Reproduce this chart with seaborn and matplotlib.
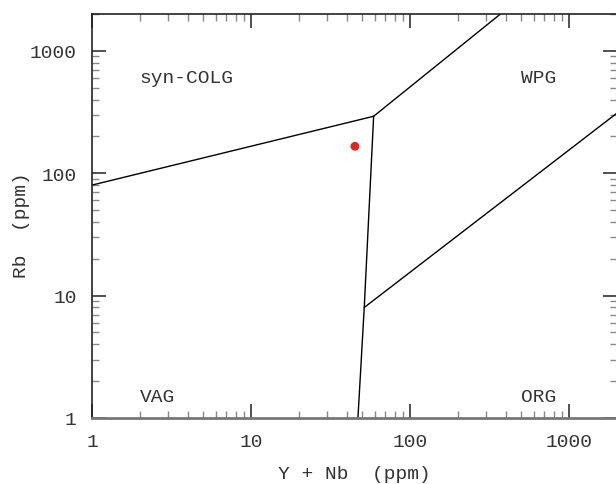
import seaborn as sns
import pandas as pd
import numpy as np
import matplotlib.pyplot as plt

# field boundaries (Y+Nb vs Rb)
colg_vag_x = [1, 59]
colg_vag_y = [80, 292]
colg_wpg_x = [59, 370]
colg_wpg_y = [292, 2000]
vag_wpg_x = [59, 51.5, 47]
vag_wpg_y = [292, 8, 1]
org_wpg_x = [51.5, 2000]
org_wpg_y = [8, 310]

# the sample
sample_x = [45]
sample_y = [166]

# field names
field_names = ["syn-COLG", "WPG", "VAG", "ORG"]
field_x = [2, 500, 2, 500]
field_y = [600, 600, 1.5, 1.5]

tick_vals = [1, 10, 100, 1000]
tick_labels = ["1", "10", "100", "1000"]

sns.set_theme(style='ticks')
plt.rcParams['font.family'] = ['Liberation Mono', 'DejaVu Sans Mono']

fig = plt.figure(figsize=(6.16, 4.85), dpi=100)
ax = fig.add_axes([92/616, 66/485, 525/616, 404/485])

lines = [(colg_vag_x, colg_vag_y), (colg_wpg_x, colg_wpg_y),
         (vag_wpg_x, vag_wpg_y), (org_wpg_x, org_wpg_y)]
for lx, ly in lines:
    df = pd.DataFrame({"x": lx, "y": ly})
    sns.lineplot(data=df, x="x", y="y", sort=False, color="black", lw=1.0, ax=ax)

pts = pd.DataFrame({"x": sample_x, "y": sample_y})
sns.scatterplot(data=pts, x="x", y="y", color="#e3241d", s=40, edgecolor="none", ax=ax)

for name, fx, fy in zip(field_names, field_x, field_y):
    ax.text(fx, fy, name, fontsize=14, color="#333333", ha="left", va="center")

ax.set_xscale("log")
ax.set_yscale("log")
ax.set_xlim(1, 2000)
ax.set_ylim(1, 2000)
ax.set_xticks(tick_vals, tick_labels)
ax.set_yticks(tick_vals, tick_labels)

ax.tick_params(which="major", direction="in", top=True, right=True,
               length=10, width=1.2, color="#333333", labelsize=14,
               labelcolor="#333333", pad=11)
ax.tick_params(which="minor", direction="in", top=True, right=True,
               length=5, width=1.0, color="#888888")

ax.set_xlabel("Y + Nb  (ppm)", fontsize=14, color="#333333")
ax.set_ylabel("Rb  (ppm)", fontsize=14, color="#333333")
ax.xaxis.set_label_coords(0.5, -0.116)
ax.yaxis.set_label_coords(-0.118, 0.48)

for side in ["left", "top", "right"]:
    ax.spines[side].set_color("#222222")
    ax.spines[side].set_linewidth(1.2)
ax.spines["bottom"].set_color("#777777")
ax.spines["bottom"].set_linewidth(2)

fig.savefig("out.png", dpi=100)
